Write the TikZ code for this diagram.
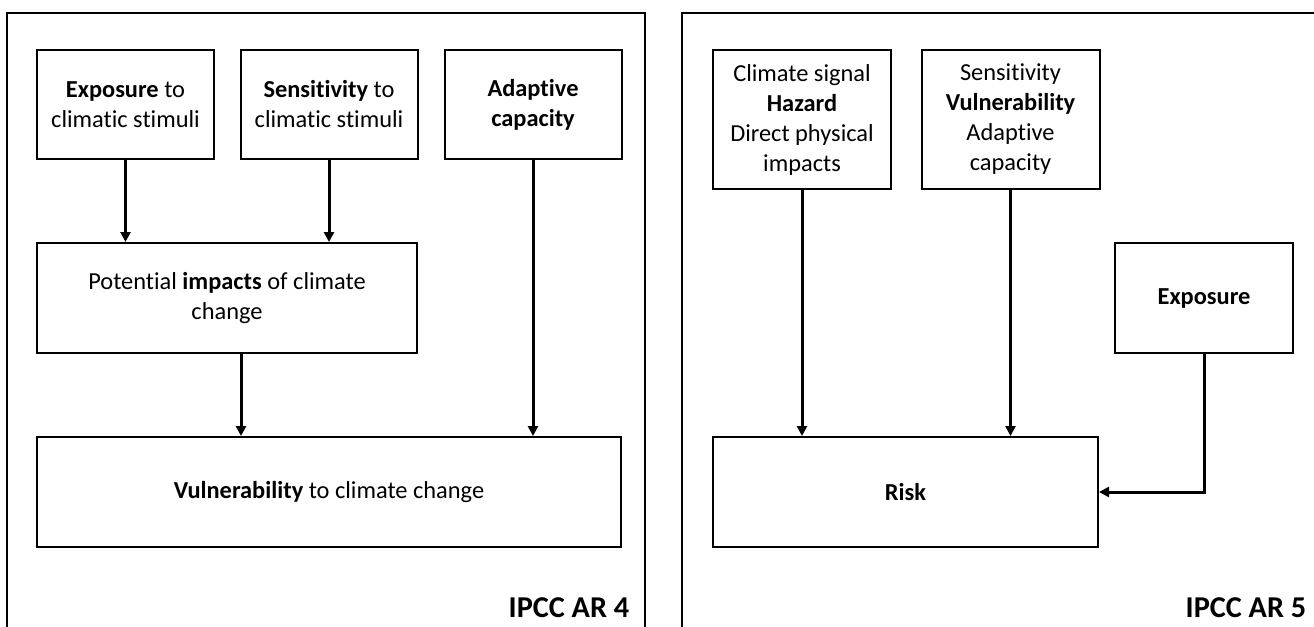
\documentclass[tikz,border=0pt]{standalone}
\usepackage{fontspec}
\setmainfont{Carlito}[Ligatures=NoCommon]
\usetikzlibrary{arrows.meta}

\begin{document}
\begin{tikzpicture}[x=0.75pt,y=-0.75pt,
      box/.style={rectangle,draw,line width=1.5pt,align=center,inner sep=0pt,
        font=\fontsize{18.3}{22.5}\selectfont},
      small/.style={minimum width=132.75pt,minimum height=81.75pt},
      tall/.style={minimum width=133.5pt,minimum height=104.25pt},
      wide/.style={minimum height=82.5pt},
      arr/.style={line width=2.25pt,-{Triangle[length=7.5pt,width=7.5pt]}},
      frame/.style={line width=1pt},
      tag/.style={anchor=base east,font=\fontsize{22.7}{27}\selectfont\bfseries}]
      \useasboundingbox (0,0) rectangle (1314,626);
      % Frames
      \draw[frame] (7,630) |- (645,13) -- (645,630);
      \draw[frame] (682,630) |- (1320,13);
      % IPCC AR 4
      \node[box,small] (expo) at (125.5,104.5) {\textbf{Exposure} to\\climatic stimuli};
      \node[box,small] (sens) at (329,104.5) {\textbf{Sensitivity} to\\climatic stimuli};
      \node[box,small] (adapt) at (533,104.5) {\textbf{Adaptive}\\\textbf{capacity}};
      \node[box,wide,minimum width=285pt] (impacts) at (227,298)
        {Potential \textbf{impacts} of climate\\change};
      \node[box,wide,minimum width=438pt] (vuln) at (329,492)
        {\textbf{Vulnerability} to climate change};
      \node[tag] (ar4) at (634,617) {IPCC AR 4};
      \draw[arr] (expo.south) -- (expo.south |- impacts.north);
      \draw[arr] (sens.south) -- (sens.south |- impacts.north);
      \draw[arr] ([xshift=10.5pt]impacts.south) -- ([xshift=10.5pt]impacts.south |- vuln.north);
      \draw[arr] (adapt.south) -- (adapt.south |- vuln.north);
      % IPCC AR 5
      \node[box,tall] (hazard) at (802,119.5)
        {Climate signal\\\textbf{Hazard}\\Direct physical\\impacts};
      \node[box,tall] (vulner) at (1010.5,119.5)
        {Sensitivity\\\textbf{Vulnerability}\\Adaptive\\capacity};
      \node[box,wide,minimum width=133.5pt] (expose) at (1204,298) {\textbf{Exposure}};
      \node[box,wide,minimum width=288.75pt] (risk) at (905.5,492) {\textbf{Risk}};
      \node[tag] (ar5) at (1311,617) {IPCC AR 5};
      \draw[arr] (hazard.south) -- (hazard.south |- risk.north);
      \draw[arr] (vulner.south) -- (vulner.south |- risk.north);
      \draw[arr] (expose.south) |- (risk.east);
    \end{tikzpicture}
\end{document}
